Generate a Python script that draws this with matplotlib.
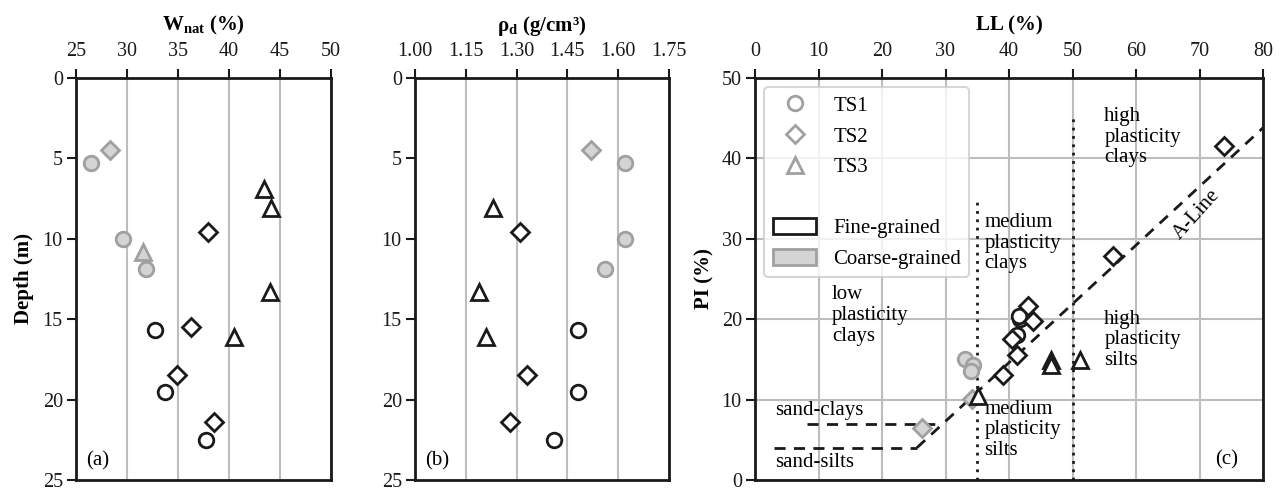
import numpy as np
import matplotlib
matplotlib.use("Agg")
import matplotlib.pyplot as plt
from matplotlib.lines import Line2D
from matplotlib.patches import Patch

plt.rcParams['font.family'] = ['Liberation Serif', 'DejaVu Serif']
plt.rcParams['mathtext.fontset'] = 'custom'
plt.rcParams['mathtext.rm'] = 'Liberation Serif'
plt.rcParams['mathtext.bf'] = 'Liberation Serif:bold'
plt.rcParams['mathtext.it'] = 'Liberation Serif:italic'

nan = np.nan
# ---- profile data (panels a, b) ----
ts1_depth = [5.3, 10.0, 11.9, 15.7, 19.5, 22.5]
ts1_w = [26.5, 29.6, 31.9, 32.7, 33.7, 37.7]
ts1_rho = [1.62, 1.62, 1.56, 1.48, 1.48, 1.41]
ts1_coarse = [True, True, True, False, False, False]

ts2_depth = [4.5, 9.6, 15.5, 18.5, 21.4]
ts2_w = [28.3, 37.9, 36.3, 34.9, 38.5]
ts2_rho = [1.52, 1.31, nan, 1.33, 1.28]
ts2_coarse = [True, False, False, False, False]

ts3_depth = [6.9, 8.1, 10.8, 13.3, 16.1]
ts3_w = [43.4, 44.1, 31.6, 44.0, 40.5]
ts3_rho = [nan, 1.23, nan, 1.19, 1.21]
ts3_coarse = [False, False, True, False, False]

# ---- plasticity chart data (panel c) ----
ts1_ll = [33.1, 34.4, 34.0, 41.3, 41.8, 41.6]
ts1_pi = [15.0, 14.3, 13.6, 18.0, 20.0, 20.4]
ts1_c_coarse = [True, True, True, False, False, False]

ts2_ll = [26.3, 34.1, 73.8, 56.3, 43.0, 43.8, 40.4, 41.2, 39.1]
ts2_pi = [6.5, 10.1, 41.5, 27.9, 21.7, 19.8, 17.5, 15.5, 13.0]
ts2_c_coarse = [True, True, False, False, False, False, False, False, False]

ts3_ll = [35.1, 46.6, 46.6, 51.2]
ts3_pi = [10.5, 14.9, 14.3, 14.9]
ts3_c_coarse = [False, False, False, False]

# A-line / zone boundaries
aline_ll = [25.5, 80.0]
sandclay_ll = [8.2, 29.6]
sandclay_pi = 7.0
sandsilt_ll = [3.0, 25.5]
sandsilt_pi = 4.0

GRAY_E = '#a0a0a0'
GRAY_F = '#d4d4d4'
BLACK = '#1a1a1a'
GRID = '#bdbdbd'
FS = 15
TFS = 14.5

series = [('o', 10.5), ('D', 9.5), ('^', 11)]


def draw(ax, xs, ys, coarse, marker, ms):
    xs = np.asarray(xs, float); ys = np.asarray(ys, float); c = np.asarray(coarse)
    ax.plot(xs[c], ys[c], ls='none', marker=marker, ms=ms, mfc=GRAY_F, mec=GRAY_E,
            mew=2, zorder=3)
    ax.plot(xs[~c], ys[~c], ls='none', marker=marker, ms=ms, mfc='white', mec=BLACK,
            mew=2, zorder=4)


fig = plt.figure(figsize=(12.84, 4.9), dpi=100)
W, H = 1284, 490
axa = fig.add_axes([76 / W, 10 / H, 255 / W, 402 / H])
axb = fig.add_axes([415 / W, 10 / H, 254 / W, 402 / H])
axc = fig.add_axes([755 / W, 10 / H, 508 / W, 402 / H])

for ax in (axa, axb, axc):
    ax.xaxis.tick_top()
    ax.xaxis.set_label_position('top')
    ax.tick_params(direction='out', length=6.5, width=1.5, labelsize=TFS, pad=3,
                   top=True, bottom=False, left=True, right=False, colors=BLACK)
    ax.tick_params(axis='x', pad=6)
    for s in ax.spines.values():
        s.set_linewidth(2)
        s.set_color(BLACK)
    ax.set_axisbelow(True)

# panel a
axa.set_xlim(25, 50)
axa.set_ylim(25, 0)
axa.set_xticks(np.arange(25, 51, 5))
axa.set_yticks(np.arange(0, 26, 5))
axa.grid(axis='x', color=GRID, lw=1.5)
draw(axa, ts1_w, ts1_depth, ts1_coarse, *series[0])
draw(axa, ts2_w, ts2_depth, ts2_coarse, *series[1])
draw(axa, ts3_w, ts3_depth, ts3_coarse, *series[2])
axa.set_xlabel(r'W$_\mathbf{nat}$ (%)', fontsize=FS, fontweight='bold', labelpad=8)
axa.set_ylabel('Depth (m)', fontsize=FS, fontweight='bold', labelpad=6)
axa.text(26.0, 23.8, '(a)', fontsize=FS, ha='left', va='center')

# panel b
axb.set_xlim(1.0, 1.75)
axb.set_ylim(25, 0)
axb.set_xticks([1.00, 1.15, 1.30, 1.45, 1.60, 1.75])
axb.set_xticklabels(['1.00', '1.15', '1.30', '1.45', '1.60', '1.75'])
axb.set_yticks(np.arange(0, 26, 5))
axb.grid(axis='x', color=GRID, lw=1.5)
draw(axb, ts1_rho, ts1_depth, ts1_coarse, *series[0])
draw(axb, ts2_rho, ts2_depth, ts2_coarse, *series[1])
draw(axb, ts3_rho, ts3_depth, ts3_coarse, *series[2])
axb.set_xlabel(r'ρ$_\mathbf{d}$ (g/cm³)', fontsize=FS, fontweight='bold', labelpad=8)
axb.text(1.03, 23.8, '(b)', fontsize=FS, ha='left', va='center')

# panel c
axc.set_xlim(0, 80)
axc.set_ylim(0, 50)
axc.set_xticks(np.arange(0, 81, 10))
axc.set_yticks(np.arange(0, 51, 10))
axc.grid(color=GRID, lw=1.5)
axc.set_xlabel('LL (%)', fontsize=FS, fontweight='bold', labelpad=8)
axc.set_ylabel('PI (%)', fontsize=FS, fontweight='bold', labelpad=5)

aline_pi = [0.73 * (x - 20) for x in aline_ll]
axc.plot(aline_ll, aline_pi, ls=(0, (4, 3)), color=BLACK, lw=2, zorder=2)
axc.plot(sandclay_ll, [sandclay_pi] * 2, ls=(0, (4, 3)), color=BLACK, lw=2, zorder=2)
axc.plot(sandsilt_ll, [sandsilt_pi] * 2, ls=(0, (4, 3)), color=BLACK, lw=2, zorder=2)
axc.plot([35, 35], [0, 35], ls=(0, (1, 2)), color=BLACK, lw=2, zorder=2)
axc.plot([50, 50], [0, 45], ls=(0, (1, 2)), color=BLACK, lw=2, zorder=2)

draw(axc, ts1_ll, ts1_pi, ts1_c_coarse, *series[0])
draw(axc, ts2_ll, ts2_pi, ts2_c_coarse, *series[1])
draw(axc, ts3_ll, ts3_pi, ts3_c_coarse, *series[2])

tk = dict(fontsize=FS, ha='left', va='top', linespacing=1.12)
axc.text(55.0, 46.4, 'high\nplasticity\nclays', **tk)
axc.text(55.0, 21.2, 'high\nplasticity\nsilts', **tk)
axc.text(36.1, 33.2, 'medium\nplasticity\nclays', **tk)
axc.text(36.1, 10.0, 'medium\nplasticity\nsilts', **tk)
axc.text(12.1, 24.2, 'low\nplasticity\nclays', **tk)
axc.text(3.1, 8.1, 'sand-clays', fontsize=FS, ha='left', va='baseline')
axc.text(3.1, 1.6, 'sand-silts', fontsize=FS, ha='left', va='baseline')
axc.text(72.4, 1.9, '(c)', fontsize=FS, ha='left', va='baseline')
axc.text(69.5, 33.0, 'A-Line', fontsize=FS, ha='center', va='center', rotation=48,
         rotation_mode='anchor')

handles = [
    Line2D([], [], ls='none', marker='o', ms=10.5, mfc='none', mec=GRAY_E, mew=2),
    Line2D([], [], ls='none', marker='D', ms=9.5, mfc='none', mec=GRAY_E, mew=2),
    Line2D([], [], ls='none', marker='^', ms=11, mfc='none', mec=GRAY_E, mew=2),
    Line2D([], [], ls='none'),
    Patch(facecolor='white', edgecolor=BLACK, lw=2),
    Patch(facecolor=GRAY_F, edgecolor=GRAY_E, lw=2),
]
labels = ['TS1', 'TS2', 'TS3', ' ', 'Fine-grained', 'Coarse-grained']
leg = axc.legend(handles, labels, loc='upper left', fontsize=FS, frameon=True,
                 fancybox=True, framealpha=0.8, edgecolor='#cccccc',
                 handlelength=2.1, handleheight=0.8, labelspacing=0.5,
                 borderpad=0.4, handletextpad=0.8, borderaxespad=0.45)
leg.get_frame().set_linewidth(1.5)
leg.set_zorder(5)

fig.savefig('out.png', dpi=100)
